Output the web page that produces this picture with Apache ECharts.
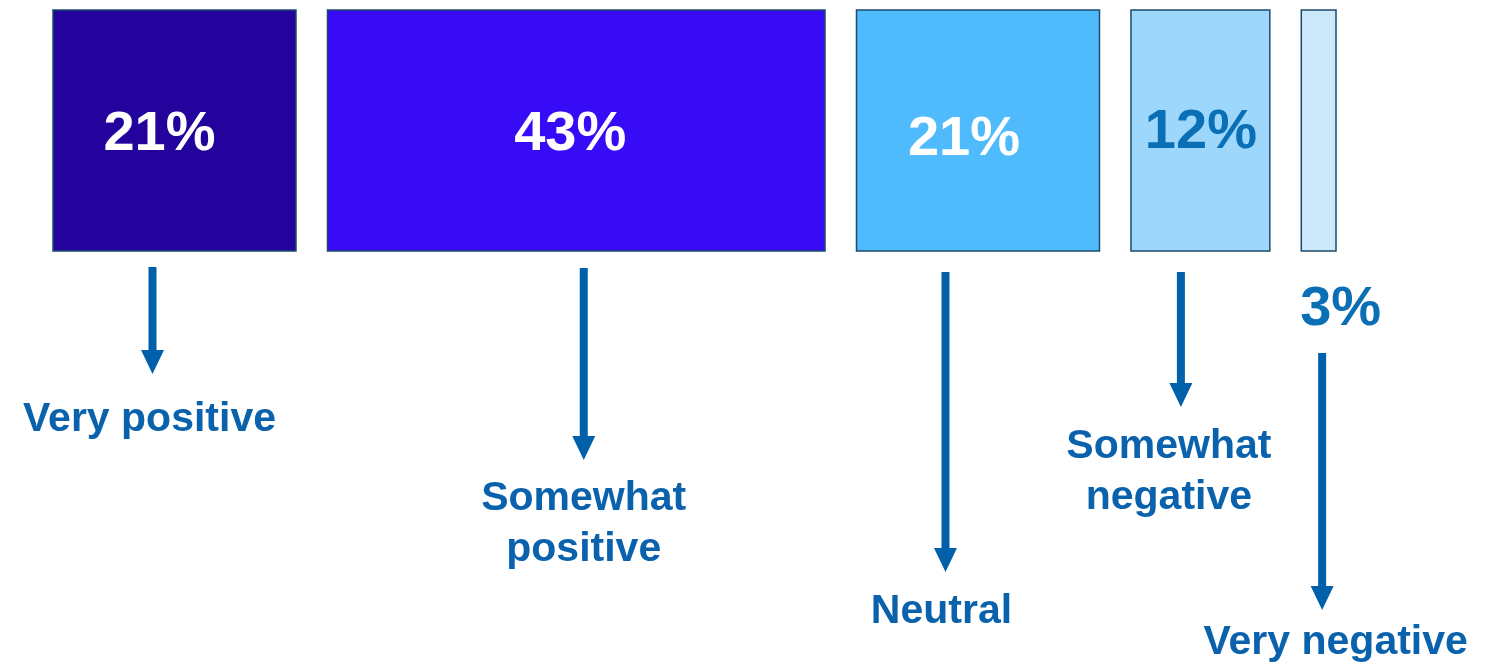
<!DOCTYPE html>
<html>
<head>
<meta charset="utf-8">
<script src="https://cdn.jsdelivr.net/npm/echarts@6/dist/echarts.min.js"></script>
<style>
html,body{margin:0;padding:0;background:#fff;}
#chart{width:1498px;height:663px;}
</style>
</head>
<body>
<div id="chart"></div>
<script>
// ---- data ----
var categories = ['Very positive', 'Somewhat\npositive', 'Neutral', 'Somewhat\nnegative', 'Very negative'];
var values = [21, 43, 21, 12, 3];

// ---- styling / layout (pixels) ----
var GAP = 2.72; // gap between blocks, in axis units
var barColors = ['#23039c', '#380bf6', '#4fbbfd', '#9dd8fc', '#cce9fc'];
var valueColors = ['#ffffff', '#ffffff', '#ffffff', '#0b6fb6', '#0b6fb6'];
var layout = [
  {valDx: -15,  valY: 135, arrowDx: -22,   arrowTop: 267, arrowTip: 374, labelDx: -3,  labelY: 420},
  {valDx: -6,   valY: 135, arrowDx: 7.5,   arrowTop: 268, arrowTip: 460, labelDx: 0,   labelY: 499},
  {valDx: -14,  valY: 140, arrowDx: -32.5, arrowTop: 272, arrowTip: 572, labelDx: -4,  labelY: 612},
  {valDx: 0.5,  valY: 133, arrowDx: -19.5, arrowTop: 272, arrowTip: 407, labelDx: -12, labelY: 447},
  {valDx: 22,   valY: 310, arrowDx: 3.5,   arrowTop: 353, arrowTip: 610, labelDx: 13.5, labelY: 643}
];
var LINE_H = 51;
var FONT = '"Liberation Sans", Arial, Helvetica, sans-serif';
var ARROW_COLOR = '#0060aa';
var LABEL_COLOR = '#0a62ad';

// build [start, end, value, index]
var seriesData = [];
var acc = 0;
values.forEach(function (v, i) {
  var start = acc + i * GAP;
  seriesData.push([start, start + v, v, i]);
  acc += v;
});
var xMax = acc + (values.length - 1) * GAP;

var chart = echarts.init(document.getElementById('chart'), null, {renderer: 'canvas'});
chart.setOption({
  animation: false,
  grid: {left: 53, width: 1283, top: 10, height: 241},
  xAxis: {type: 'value', min: 0, max: xMax, show: false},
  yAxis: {type: 'value', min: 0, max: 1, show: false},
  series: [{
    type: 'custom',
    clip: false,
    data: seriesData,
    renderItem: function (params, api) {
      var i = api.value(3);
      var p0 = api.coord([api.value(0), 1]);
      var p1 = api.coord([api.value(1), 0]);
      var cx = (p0[0] + p1[0]) / 2;
      var L = layout[i];
      var ax = cx + L.arrowDx;
      var hw = 4, headW = 11.5, headL = 24;
      var hb = L.arrowTip - headL;
      return {
        type: 'group',
        children: [
          {
            type: 'rect',
            shape: {x: p0[0], y: p0[1], width: p1[0] - p0[0], height: p1[1] - p0[1]},
            style: {fill: barColors[i], stroke: '#1d4b6b', lineWidth: 1.5}
          },
          {
            type: 'text',
            style: {
              text: api.value(2) + '%',
              x: cx + L.valDx, y: L.valY,
              align: 'center', verticalAlign: 'middle',
              fill: valueColors[i],
              font: 'bold 56px ' + FONT
            }
          },
          {
            type: 'polygon',
            shape: {points: [[ax - hw, L.arrowTop], [ax + hw, L.arrowTop], [ax + hw, hb], [ax + headW, hb], [ax, L.arrowTip], [ax - headW, hb], [ax - hw, hb]]},
            style: {fill: ARROW_COLOR}
          },
          {
            type: 'text',
            style: {
              text: categories[i],
              x: ax + L.labelDx, y: L.labelY - LINE_H / 2,
              align: 'center', verticalAlign: 'top',
              lineHeight: LINE_H,
              fill: LABEL_COLOR,
              font: 'bold 41px ' + FONT
            }
          }
        ]
      };
    }
  }]
});
</script>
</body>
</html>
